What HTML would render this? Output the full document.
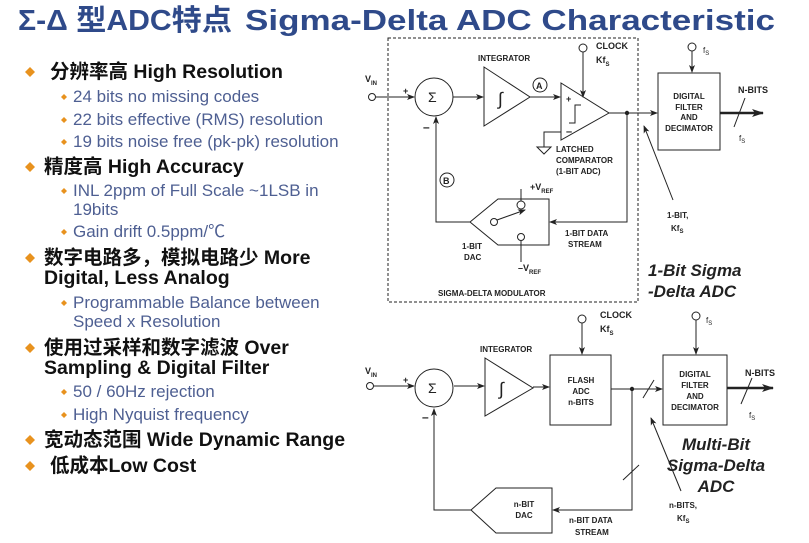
<!DOCTYPE html>
<html><head><meta charset="utf-8"><style>
html,body{margin:0;padding:0;background:#fff;width:809px;height:543px;overflow:hidden}
svg{display:block}
.t{font-family:"Liberation Sans","Noto Sans CJK SC",sans-serif}
.m{font-size:19.5px;font-weight:bold;fill:#111}
.s{font-size:17px;fill:#4e5f92}
.d{font-family:"Liberation Sans",sans-serif;font-size:9px;font-weight:bold;fill:#222}
.it{font-family:"Liberation Sans",sans-serif;font-size:17px;font-weight:bold;font-style:italic;fill:#222}
</style></head><body>
<svg width="809" height="543" viewBox="0 0 809 543" xmlns="http://www.w3.org/2000/svg">
<defs>
<marker id="a" markerWidth="8" markerHeight="6" refX="7" refY="3" orient="auto" markerUnits="userSpaceOnUse"><path d="M0,0 L8,3 L0,6 L2,3z" fill="#222"/></marker>
<marker id="b" markerWidth="12" markerHeight="8" refX="11" refY="4" orient="auto" markerUnits="userSpaceOnUse"><path d="M0,0 L12,4 L0,8 L3,4z" fill="#222"/></marker>
<g id="dm"><path d="M0,-5 L5,0 L0,5 L-5,0z" fill="#e8921e"/></g>
<g id="ds"><path d="M0,-3 L3,0 L0,3 L-3,0z" fill="#e8921e"/></g>
</defs>
<!-- title -->
<g class="t" style="font-size:29px;font-weight:bold;fill:#2f4a8a">
<text x="18" y="30" textLength="214" lengthAdjust="spacingAndGlyphs">Σ-Δ 型ADC特点</text>
<text x="245" y="30" textLength="530" lengthAdjust="spacingAndGlyphs">Sigma-Delta ADC Characteristic</text>
</g>
<!-- bullets -->
<g class="t">
<use href="#dm" x="30" y="72"/><text x="50" y="78" class="m">分辨率高 High Resolution</text>
<use href="#ds" x="64" y="97"/><text x="73" y="102" class="s">24 bits no missing codes</text>
<use href="#ds" x="64" y="120"/><text x="73" y="125" class="s">22 bits effective (RMS) resolution</text>
<use href="#ds" x="64" y="142"/><text x="73" y="147" class="s">19 bits noise free (pk-pk) resolution</text>
<use href="#dm" x="30" y="167"/><text x="44" y="173" class="m">精度高 High Accuracy</text>
<use href="#ds" x="64" y="191"/><text x="73" y="196" class="s">INL 2ppm of Full Scale ~1LSB in</text>
<text x="73" y="215" class="s">19bits</text>
<use href="#ds" x="64" y="232"/><text x="73" y="237" class="s">Gain drift 0.5ppm/℃</text>
<use href="#dm" x="30" y="258"/><text x="44" y="264" class="m">数字电路多，模拟电路少  More</text>
<text x="44" y="284" class="m">Digital, Less Analog</text>
<use href="#ds" x="64" y="303"/><text x="73" y="308" class="s">Programmable Balance between</text>
<text x="73" y="327" class="s">Speed x Resolution</text>
<use href="#dm" x="30" y="348"/><text x="44" y="354" class="m">使用过采样和数字滤波 Over</text>
<text x="44" y="374" class="m">Sampling &amp; Digital Filter</text>
<use href="#ds" x="64" y="392"/><text x="73" y="397" class="s">50 / 60Hz rejection</text>
<use href="#ds" x="64" y="415"/><text x="73" y="420" class="s">High Nyquist frequency</text>
<use href="#dm" x="30" y="440"/><text x="44" y="446" class="m">宽动态范围 Wide Dynamic Range</text>
<use href="#dm" x="30" y="466"/><text x="50" y="472" class="m">低成本Low Cost</text>
</g>
<!-- ===== top diagram ===== -->
<g stroke="#222" stroke-width="1" fill="none">
<rect x="388" y="38" width="250" height="264" stroke-dasharray="3,2"/>
<circle cx="372" cy="97" r="3.5"/>
<line x1="376" y1="97" x2="414" y2="97" marker-end="url(#a)"/>
<circle cx="434" cy="97" r="19"/>
<line x1="453" y1="97" x2="483" y2="97" marker-end="url(#a)"/>
<path d="M484,67 L484,126 L530,97z"/>
<circle cx="540" cy="85" r="7"/>
<line x1="530" y1="97" x2="560" y2="97" marker-end="url(#a)"/>
<path d="M561,83 L561,140 L609,113z"/>
<path d="M569,123 L575,123 L575,105 L581,105"/>
<path d="M561,132 L544,132 L544,147"/>
<path d="M537,147 L551,147 L544,154z"/>
<circle cx="583" cy="48" r="4"/>
<line x1="583" y1="52" x2="583" y2="97" marker-end="url(#a)"/>
<line x1="609" y1="113" x2="657" y2="113" marker-end="url(#a)"/>
<path d="M627,113 L627,222 L550,222" marker-end="url(#a)"/>
<path d="M470,222 L498,199 L549,199 L549,245 L498,245z"/>
<path d="M470,222 L436,222 L436,117" marker-end="url(#a)"/>
<circle cx="447" cy="180" r="7"/>
<line x1="521" y1="189" x2="521" y2="201"/>
<circle cx="521" cy="205" r="4"/>
<circle cx="494" cy="222" r="3.5"/>
<line x1="497" y1="220" x2="525" y2="210" marker-end="url(#a)"/>
<circle cx="521" cy="237" r="3.5"/>
<line x1="521" y1="241" x2="521" y2="262"/>
<rect x="658" y="73" width="62" height="77"/>
<circle cx="692" cy="47" r="4"/>
<line x1="692" y1="51" x2="692" y2="72" marker-end="url(#a)"/>
<line x1="720" y1="113" x2="763" y2="113" stroke-width="2.5" marker-end="url(#b)"/>
<line x1="734" y1="127" x2="745" y2="98"/>
<line x1="673" y1="200" x2="644" y2="126" marker-end="url(#a)"/>
</g>
<g fill="#222" stroke="none"><circle cx="627" cy="113" r="2.2"/><circle cx="632" cy="389" r="2.2"/></g>
<g class="d">
<text x="365" y="82">V<tspan font-size="6" dy="3">IN</tspan></text>
<text x="403" y="94">+</text><text x="423" y="131" font-size="12">–</text>
<text x="428" y="102" font-size="14" font-weight="normal">Σ</text>
<text x="498" y="105" font-size="18" font-weight="normal">∫</text>
<text x="478" y="61" font-size="8">INTEGRATOR</text>
<text x="536" y="89" font-size="9">A</text>
<text x="443" y="184" font-size="9">B</text>
<text x="566" y="102">+</text><text x="566" y="135" font-size="11">–</text>
<text x="596" y="49">CLOCK</text><text x="596" y="63">Kf<tspan font-size="6" dy="3">S</tspan></text>
<text x="556" y="152" font-size="8">LATCHED</text>
<text x="556" y="163" font-size="8">COMPARATOR</text>
<text x="556" y="174" font-size="8">(1-BIT ADC)</text>
<text x="530" y="190">+V<tspan font-size="6" dy="3">REF</tspan></text>
<text x="518" y="271">–V<tspan font-size="6" dy="3">REF</tspan></text>
<text x="462" y="249" font-size="8">1-BIT</text><text x="464" y="260" font-size="8">DAC</text>
<text x="565" y="236" font-size="8">1-BIT DATA</text><text x="568" y="247" font-size="8">STREAM</text>
<text x="438" y="296" font-size="8">SIGMA-DELTA MODULATOR</text>
<text x="703" y="53" font-size="8" font-weight="normal">f<tspan font-size="6" dy="2">S</tspan></text>
<text x="689" y="99" font-size="8" text-anchor="middle">DIGITAL</text>
<text x="689" y="110" font-size="8" text-anchor="middle">FILTER</text>
<text x="689" y="120" font-size="8" text-anchor="middle">AND</text>
<text x="689" y="131" font-size="8" text-anchor="middle">DECIMATOR</text>
<text x="738" y="93">N-BITS</text>
<text x="739" y="141" font-size="8" font-weight="normal">f<tspan font-size="6" dy="2">S</tspan></text>
<text x="667" y="218" font-size="8">1-BIT,</text><text x="671" y="231" font-size="8">Kf<tspan font-size="6" dy="2">S</tspan></text>
</g>
<text x="648" y="276" class="it">1-Bit Sigma</text>
<text x="648" y="297" class="it">-Delta ADC</text>
<!-- ===== bottom diagram ===== -->
<g stroke="#222" stroke-width="1" fill="none">
<circle cx="370" cy="386" r="3.5"/>
<line x1="374" y1="386" x2="414" y2="386" marker-end="url(#a)"/>
<circle cx="434" cy="388" r="19"/>
<line x1="454" y1="386" x2="484" y2="386" marker-end="url(#a)"/>
<path d="M485,358 L485,416 L533,388z"/>
<line x1="533" y1="387" x2="549" y2="387" marker-end="url(#a)"/>
<rect x="550" y="355" width="61" height="70"/>
<circle cx="582" cy="319" r="4"/>
<line x1="582" y1="323" x2="582" y2="354" marker-end="url(#a)"/>
<line x1="611" y1="389" x2="662" y2="389" marker-end="url(#a)"/>
<line x1="643" y1="398" x2="654" y2="380"/>
<path d="M632,389 L632,510 L553,510" marker-end="url(#a)"/>
<line x1="623" y1="480" x2="639" y2="465"/>
<path d="M471,510 L496,488 L552,488 L552,533 L496,533z"/>
<path d="M471,510 L434,510 L434,409" marker-end="url(#a)"/>
<rect x="663" y="355" width="64" height="70"/>
<circle cx="696" cy="316" r="4"/>
<line x1="696" y1="320" x2="696" y2="354" marker-end="url(#a)"/>
<line x1="727" y1="388" x2="773" y2="388" stroke-width="2.5" marker-end="url(#b)"/>
<line x1="741" y1="404" x2="752" y2="378"/>
<line x1="681" y1="491" x2="651" y2="418" marker-end="url(#a)"/>
</g>
<g class="d">
<text x="365" y="374">V<tspan font-size="6" dy="3">IN</tspan></text>
<text x="403" y="383">+</text><text x="422" y="421" font-size="12">–</text>
<text x="428" y="393" font-size="14" font-weight="normal">Σ</text>
<text x="499" y="395" font-size="18" font-weight="normal">∫</text>
<text x="480" y="352" font-size="8">INTEGRATOR</text>
<text x="600" y="318">CLOCK</text><text x="600" y="332">Kf<tspan font-size="6" dy="3">S</tspan></text>
<text x="581" y="383" font-size="8" text-anchor="middle">FLASH</text>
<text x="581" y="394" font-size="8" text-anchor="middle">ADC</text>
<text x="581" y="405" font-size="8" text-anchor="middle">n-BITS</text>
<text x="524" y="507" font-size="8" text-anchor="middle">n-BIT</text>
<text x="524" y="518" font-size="8" text-anchor="middle">DAC</text>
<text x="569" y="523" font-size="8">n-BIT DATA</text><text x="575" y="535" font-size="8">STREAM</text>
<text x="706" y="323" font-size="8" font-weight="normal">f<tspan font-size="6" dy="2">S</tspan></text>
<text x="695" y="377" font-size="8" text-anchor="middle">DIGITAL</text>
<text x="695" y="388" font-size="8" text-anchor="middle">FILTER</text>
<text x="695" y="399" font-size="8" text-anchor="middle">AND</text>
<text x="695" y="410" font-size="8" text-anchor="middle">DECIMATOR</text>
<text x="745" y="376">N-BITS</text>
<text x="749" y="418" font-size="8" font-weight="normal">f<tspan font-size="6" dy="2">S</tspan></text>
<text x="669" y="508" font-size="8">n-BITS,</text><text x="677" y="521" font-size="8">Kf<tspan font-size="6" dy="2">S</tspan></text>
</g>
<text x="716" y="450" class="it" text-anchor="middle">Multi-Bit</text>
<text x="716" y="471" class="it" text-anchor="middle">Sigma-Delta</text>
<text x="716" y="492" class="it" text-anchor="middle">ADC</text>
</svg>
</body></html>
